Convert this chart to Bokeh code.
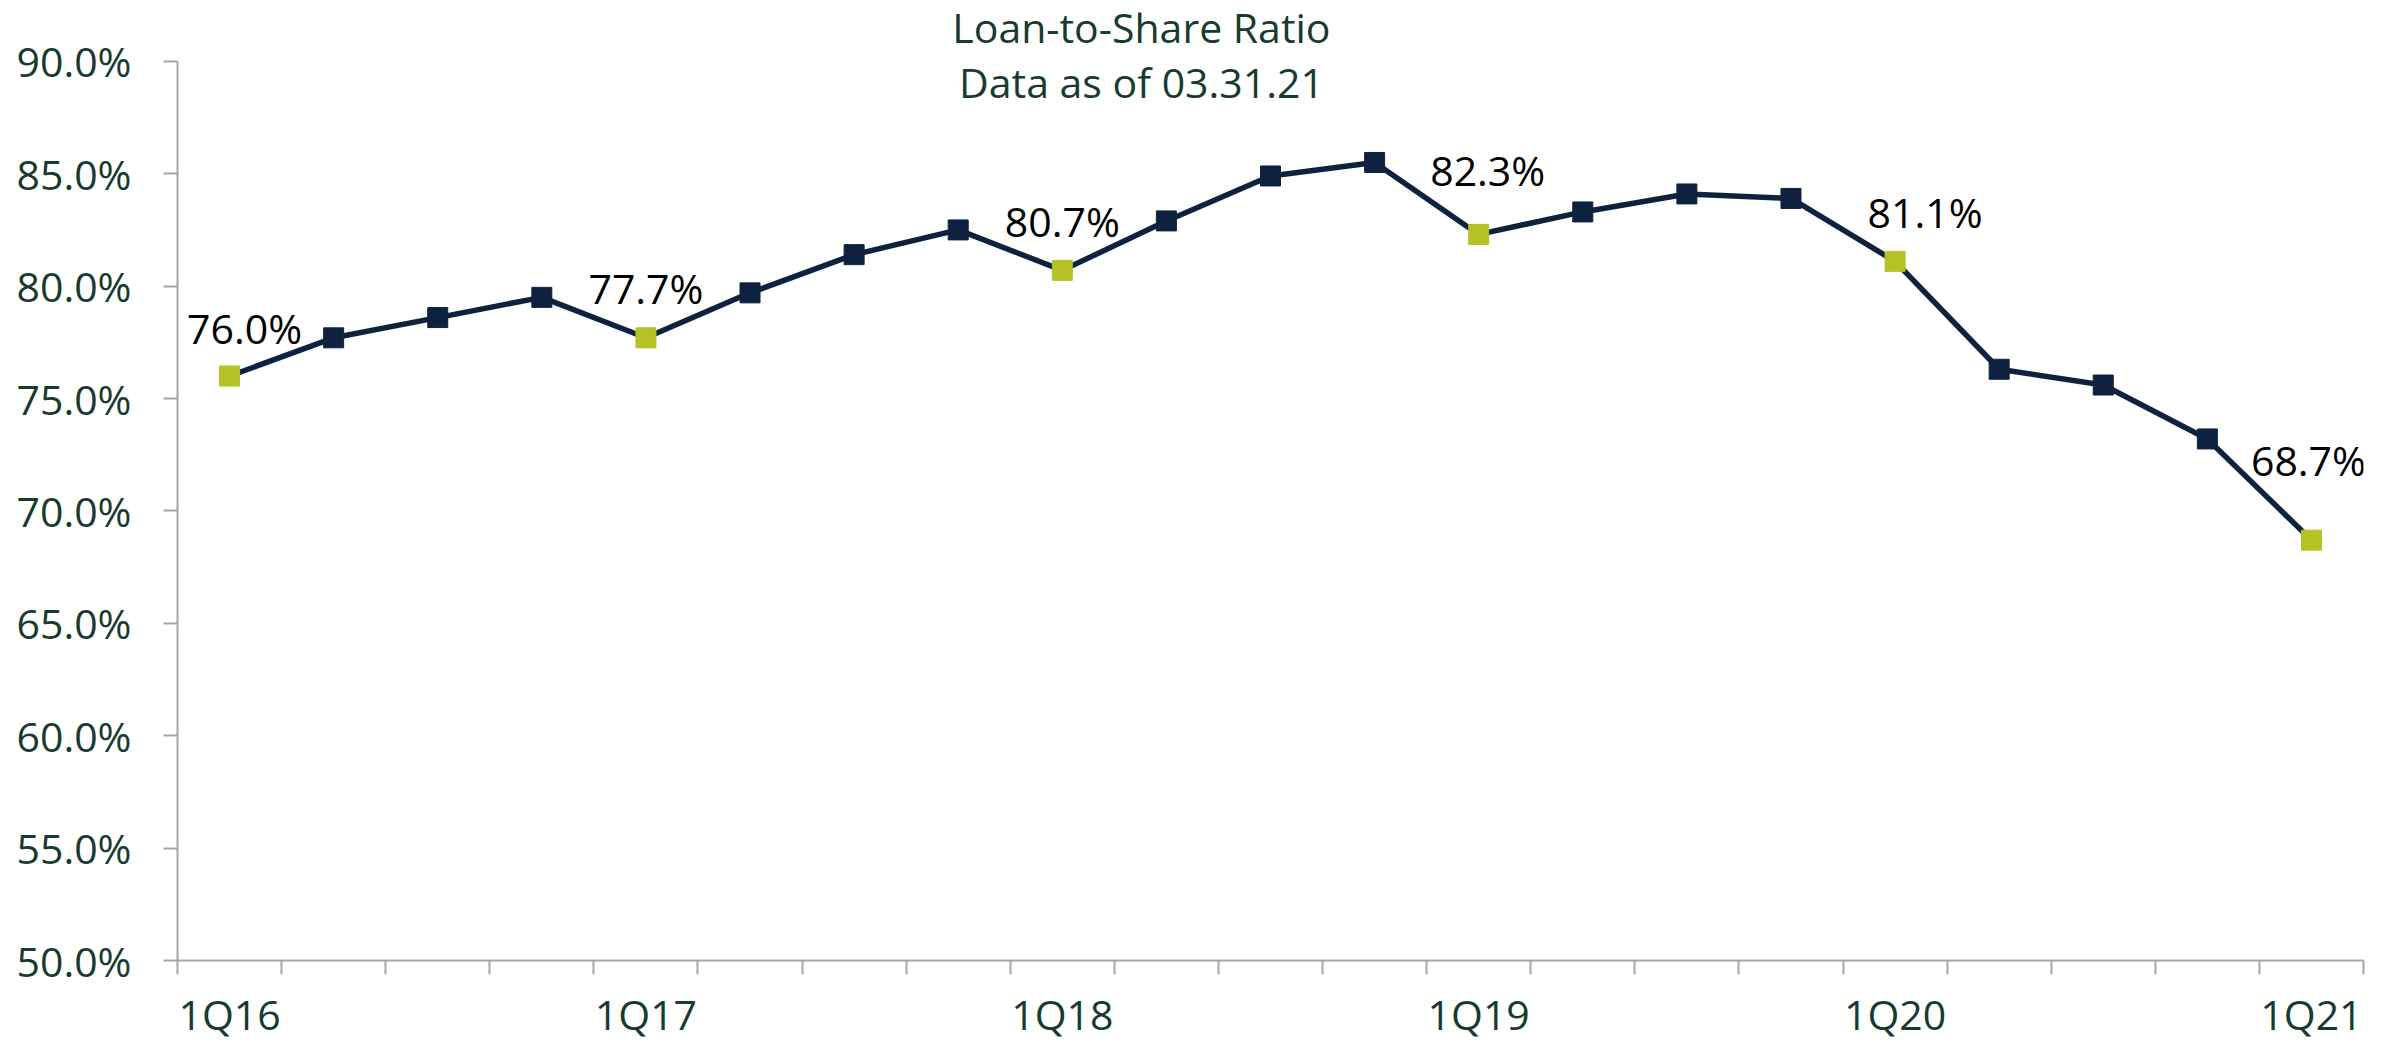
from bokeh.plotting import figure
from bokeh.models import ColumnDataSource, FixedTicker, PrintfTickFormatter, Label, Range1d
from bokeh.core.properties import value
from bokeh.embed import file_html
from bokeh.resources import INLINE

quarters = ["1Q16", "2Q16", "3Q16", "4Q16", "1Q17", "2Q17", "3Q17", "4Q17",
            "1Q18", "2Q18", "3Q18", "4Q18", "1Q19", "2Q19", "3Q19", "4Q19",
            "1Q20", "2Q20", "3Q20", "4Q20", "1Q21"]
ratio = [76.0, 77.7, 78.6, 79.5, 77.7, 79.7, 81.4, 82.5,
         80.7, 82.9, 84.9, 85.5, 82.3, 83.3, 84.1, 83.9,
         81.1, 76.3, 75.6, 73.2, 68.7]
labeled = ["1Q16", "1Q17", "1Q18", "1Q19", "1Q20", "1Q21"]
y_ticks = [50, 55, 60, 65, 70, 75, 80, 85, 90]
title_line1 = "Loan-to-Share Ratio"
title_line2 = "Data as of 03.31.21"

# label placement nudges (screen px), in order of `labeled`
label_dx = [15, 0, 0, 9, 30, -3]
label_dy = [-48, -50, -49, -64, -49, -80]

NAVY = "#0E2240"
LIME = "#B5C224"
GREEN_TXT = "#173B2F"
AXIS = "#A6A6A6"
FONT = "Open Sans"
FS = "41px"

xs = list(range(len(quarters)))
colors = [LIME if q in labeled else NAVY for q in quarters]
src = ColumnDataSource(dict(x=xs, y=ratio, c=colors))

li = [quarters.index(q) for q in labeled]
lab_src = ColumnDataSource(dict(
    x=[xs[i] for i in li], y=[ratio[i] for i in li],
    t=["%.1f%%" % ratio[i] for i in li], dx=label_dx, dy=label_dy))

# frame spans the full top so the title text can sit inside it; the y axis line stops at 90%
p = figure(width=2384, height=1044, output_backend="svg", toolbar_location=None,
           x_range=Range1d(-0.5, len(quarters) - 0.5), y_range=Range1d(y_ticks[0], 92.705),
           min_border_left=177, min_border_right=21, min_border_top=0, min_border_bottom=80)
p.outline_line_color = None
p.grid.visible = False
p.background_fill_color = "white"
p.border_fill_color = "white"

p.line("x", "y", source=src, line_color=NAVY, line_width=5.5)
p.scatter("x", "y", source=src, marker="square", size=20, fill_color="c", line_color="c")
p.text("x", "y", text="t", source=lab_src, x_offset="dx", y_offset="dy",
       text_align="center", text_baseline="middle", text_color="black",
       text_font=value(FONT), text_font_size=FS)

# axes
xa = p.xaxis[0]
xa.ticker = FixedTicker(ticks=[quarters.index(q) for q in labeled],
                        minor_ticks=[i - 0.5 for i in range(len(quarters) + 1)])
xa.major_label_overrides = {quarters.index(q): q for q in labeled}
xa.major_tick_out = 0
xa.major_tick_in = 0
xa.minor_tick_out = 14
xa.minor_tick_in = 0
xa.minor_tick_line_color = AXIS
xa.minor_tick_line_width = 2
xa.axis_line_color = AXIS
xa.axis_line_width = 2
xa.major_label_text_font = FONT
xa.major_label_text_font_size = FS
xa.major_label_text_color = GREEN_TXT
xa.major_label_standoff = 11

ya = p.yaxis[0]
ya.ticker = FixedTicker(ticks=y_ticks)
ya.bounds = (y_ticks[0], y_ticks[-1])
ya.formatter = PrintfTickFormatter(format="%.1f%%")
ya.major_tick_out = 14
ya.major_tick_in = 0
ya.minor_tick_out = 0
ya.minor_tick_in = 0
ya.major_tick_line_color = AXIS
ya.major_tick_line_width = 2
ya.axis_line_color = AXIS
ya.axis_line_width = 2
ya.major_label_text_font = FONT
ya.major_label_text_font_size = FS
ya.major_label_text_color = GREEN_TXT
ya.major_label_standoff = 32

for txt, yy in zip([title_line1, title_line2], [91.508, 89.07]):
    p.add_layout(Label(x=8.76, y=yy, text=txt, text_align="center", text_baseline="middle",
                       text_font=FONT, text_font_size=FS, text_color=GREEN_TXT))

open("out.html", "w").write(file_html(p, INLINE))
